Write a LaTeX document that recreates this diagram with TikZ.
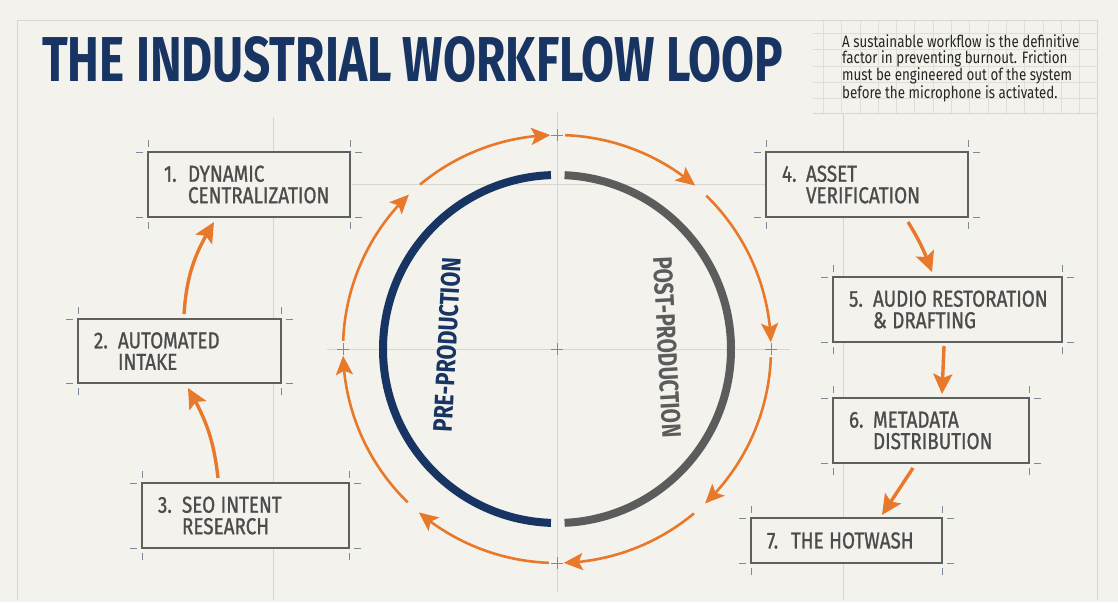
\documentclass[tikz,border=0pt]{standalone}
\usepackage{fontspec}
\usetikzlibrary{arrows.meta,bending,calc}
\setmainfont{Fira Sans}
\newfontfamily\boxfont[FakeStretch=0.82,FakeBold=1]{Fira Sans}
\newfontfamily\parafont[FakeStretch=0.81]{Fira Sans}
\newfontfamily\headfont{Fira Sans}
\newcommand\tightspace{\spaceskip=5.5pt\relax}
\definecolor{bg}{HTML}{F3F2ED}
\definecolor{faint}{HTML}{D8D6CF}
\definecolor{gridc}{HTML}{E0DED7}
\definecolor{orng}{HTML}{E8782A}
\definecolor{navy}{HTML}{173463}
\definecolor{arcgray}{HTML}{5C5C5C}
\definecolor{boxgray}{HTML}{5F5F5F}
\definecolor{txtgray}{HTML}{4C4C4C}
\definecolor{tickc}{HTML}{7D8A9C}
\tikzset{
  stepbox/.style={draw=boxgray, line width=1.8pt, fill=bg, rectangle, outer sep=0pt,
    inner xsep=16pt, inner ysep=0pt, align=left, text=txtgray,
    font=\boxfont\fontsize{23pt}{21.5pt}\selectfont,
    execute at begin node=\tightspace},
  tick/.style={draw=tickc, line width=0.9pt},
  faintline/.style={draw=faint, line width=0.8pt},
  ringarrow/.style={draw=orng, line width=2.6pt, -{Stealth[length=19pt,width=17pt,inset=4pt]}},
  flowarrow/.style={draw=orng, line width=3.4pt, -{Stealth[length=20pt,width=19pt,inset=4pt]}},
}
\newcommand\crops[1]{%
  \draw[tick] ([xshift=-12pt]#1.north west) -- ([xshift=-5pt]#1.north west);
  \draw[tick] ([yshift=12pt]#1.north west) -- ([yshift=5pt]#1.north west);
  \draw[tick] ([xshift=12pt]#1.north east) -- ([xshift=5pt]#1.north east);
  \draw[tick] ([yshift=12pt]#1.north east) -- ([yshift=5pt]#1.north east);
  \draw[tick] ([xshift=-12pt]#1.south west) -- ([xshift=-5pt]#1.south west);
  \draw[tick] ([yshift=-12pt]#1.south west) -- ([yshift=-5pt]#1.south west);
  \draw[tick] ([xshift=12pt]#1.south east) -- ([xshift=5pt]#1.south east);
  \draw[tick] ([yshift=-12pt]#1.south east) -- ([yshift=-5pt]#1.south east);
}
\newcommand\plusmark[1]{%
  \draw[tick] ($(#1)+(-6,0)$) -- ($(#1)+(6,0)$);
  \draw[tick] ($(#1)+(0,-6)$) -- ($(#1)+(0,6)$);
}
\begin{document}
\begin{tikzpicture}[x=1pt,y=-1pt]
\useasboundingbox (0,0) rectangle (1118,602);
\fill[bg] (0,0) rectangle (1118,602);
% paragraph grid
\begin{scope}
\clip (813,20) rectangle (1097,113);
\foreach \i in {0,...,16} \draw[gridc, line width=0.7pt] (823.3+18.3*\i,20) -- (823.3+18.3*\i,113);
\foreach \j in {0,...,6} \draw[gridc, line width=0.7pt] (813,17+16.3*\j) -- (1097,17+16.3*\j);
\end{scope}
% frame and faint guide lines
\draw[faintline] (17,600) -- (17,20) -- (1097,20) -- (1097,600);
\draw[faintline] (813,113) -- (1097,113);
\draw[faintline] (273,117) -- (273,600);
\draw[faintline] (843,113) -- (843,600);
\draw[faintline] (557,112) -- (557,592);
\draw[faintline] (327,349) -- (790,349);
\draw[faintline] (352,184) -- (765,184);
% title
\node[anchor=south west, inner sep=0pt, text=navy] (title) at (42,83)
  {\resizebox{741pt}{45pt}{\headfont\bfseries THE INDUSTRIAL WORKFLOW LOOP}};
% paragraph
\node[anchor=base west, inner sep=0pt, text=black!85] (note) at (842,47.3)
  {\parbox[t]{250pt}{\parafont\fontsize{16.5pt}{16.1pt}\selectfont
  A sustainable workflow is the definitive\\
  factor in preventing burnout. Friction\\
  must be engineered out of the system\\
  before the microphone is activated.}};
% circle
\coordinate (C) at (557,349);
\draw[navy, line width=8pt] ($(C)+(92:174)$) arc[start angle=92, end angle=268, radius=174];
\draw[arcgray, line width=8pt] ($(C)+(-87.5:174)$) arc[start angle=-87.5, end angle=87.5, radius=174];
\foreach \a/\b in {182.2/226.2, 230.2/268.2, 272.2/310.2, 314.2/358.2, 362.2/406.2, 410.2/448.2, 452.2/490.2, 494.2/538.2}
  \draw[ringarrow] ($(C)+(\a:214)$) arc[start angle=\a, end angle=\b, radius=214];
\coordinate (ct) at (557,135);
\coordinate (cr) at (771,349);
\coordinate (cb) at (557,563);
\coordinate (cl) at (343,349);
\plusmark{C}\plusmark{ct}\plusmark{cr}\plusmark{cb}\plusmark{cl}
\node[rotate=87, inner sep=0pt, text=navy] (pre) at (447,345)
  {\resizebox{174pt}{19pt}{\headfont\bfseries PRE-PRODUCTION}};
\node[rotate=-87, inner sep=0pt, text=arcgray] (post) at (667,347)
  {\resizebox{181pt}{19pt}{\headfont\bfseries POST-PRODUCTION}};
% boxes
\node[stepbox, minimum width=202pt, minimum height=65pt, text width=170pt] (b1) at (249,184.5)
  {\makebox[24pt][l]{1.}DYNAMIC\\\hspace*{24pt}CENTRALIZATION};
\node[stepbox, minimum width=203pt, minimum height=64pt, text width=171pt] (b2) at (179.5,351)
  {\makebox[24pt][l]{2.}AUTOMATED\\\hspace*{24pt}INTAKE};
\node[stepbox, minimum width=207pt, minimum height=65pt, text width=175pt] (b3) at (245.5,515.5)
  {\makebox[24pt][l]{3.}SEO INTENT\\\hspace*{24pt}RESEARCH};
\node[stepbox, minimum width=202pt, minimum height=65pt, text width=170pt] (b4) at (867,184.5)
  {\makebox[24pt][l]{4.}ASSET\\\hspace*{24pt}VERIFICATION};
\node[stepbox, minimum width=229pt, minimum height=65pt, text width=197pt] (b5) at (947.5,309.5)
  {\makebox[24pt][l]{5.}\mbox{AUDIO\hspace{5pt}RESTORATION}\\\hspace*{24pt}\&\hspace{5.5pt}DRAFTING};
\node[stepbox, minimum width=196pt, minimum height=65pt, text width=164pt] (b6) at (931,430.5)
  {\makebox[24pt][l]{6.}METADATA\\\hspace*{24pt}DISTRIBUTION};
\node[stepbox, minimum width=191pt, minimum height=45pt, text width=159pt] (b7) at (846.5,540.5)
  {\makebox[24pt][l]{7.}THE HOTWASH};
\crops{b1}\crops{b2}\crops{b3}\crops{b4}\crops{b5}\crops{b6}\crops{b7}
% flow arrows
\draw[flowarrow] ($(b3.north)+(-27.5,-5)$) to[bend right=12] ($(b2.south)+(8.5,5)$);
\draw[flowarrow] ($(b2.north)+(4.5,-5)$) to[bend left=14] ($(b1.south)+(-35,5)$);
\draw[flowarrow] ($(b4.south)+(41,5)$) to[bend left=6] ($(b5.north)+(-15.5,-5)$);
\draw[flowarrow] ($(b5.south)+(-3.5,4)$) -- ($(b6.north)+(11,-4)$);
\draw[flowarrow] ($(b6.south)+(-18,5)$) -- ($(b7.north)+(35.5,-3)$);
\end{tikzpicture}
\end{document}
